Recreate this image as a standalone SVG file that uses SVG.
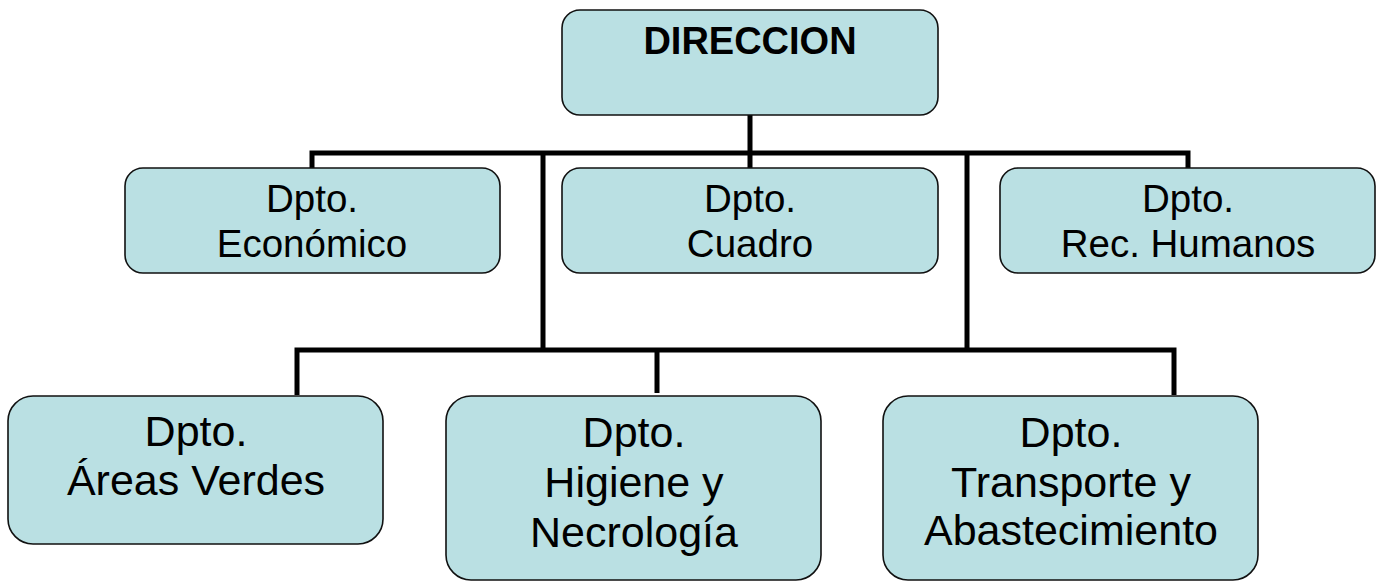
<svg xmlns="http://www.w3.org/2000/svg" width="1379" height="582" viewBox="0 0 1379 582">
<style>
.box{fill:#BAE0E3;stroke:#111;stroke-width:1.6}
.t{font-family:"Liberation Sans",Arial,sans-serif;fill:#000;text-anchor:middle}
.l2{font-size:38.5px}
.l3{font-size:43px}
.b{font-size:38px;font-weight:bold}
.c{stroke:#000;stroke-width:5;fill:none}
</style>
<rect width="1379" height="582" fill="#fff"/>
<g id="connectors">
<path class="c" d="M750 115V168M312 168V153H1188V168M543 153V350M967 153V350M297 395V350H1174V395M657 350V393"/>
</g>
<g id="direccion"><rect class="box" x="562" y="10" width="376" height="105" rx="18"/><text class="t b" x="750" y="54">DIRECCION</text></g>
<g id="economico"><rect class="box" x="125" y="168" width="375" height="105" rx="18"/><text class="t l2" x="312" y="212">Dpto.</text><text class="t l2" x="312" y="257">Económico</text></g>
<g id="cuadro"><rect class="box" x="562" y="168" width="376" height="105" rx="18"/><text class="t l2" x="750" y="212">Dpto.</text><text class="t l2" x="750" y="257">Cuadro</text></g>
<g id="rrhh"><rect class="box" x="1000" y="168" width="375" height="105" rx="18"/><text class="t l2" x="1188" y="212">Dpto.</text><text class="t l2" x="1188" y="257">Rec. Humanos</text></g>
<g id="areas"><rect class="box" x="8" y="396" width="375" height="148" rx="25"/><text class="t l3" x="196" y="446">Dpto.</text><text class="t l3" x="196" y="495">Áreas Verdes</text></g>
<g id="higiene"><rect class="box" x="446" y="396" width="375" height="184" rx="25"/><text class="t l3" x="634" y="447">Dpto.</text><text class="t l3" x="634" y="497">Higiene y</text><text class="t l3" x="634" y="547">Necrología</text></g>
<g id="transporte"><rect class="box" x="883" y="396" width="375" height="184" rx="25"/><text class="t l3" x="1071" y="447">Dpto.</text><text class="t l3" x="1071" y="497">Transporte y</text><text class="t l3" x="1071" y="545">Abastecimiento</text></g>
</svg>
